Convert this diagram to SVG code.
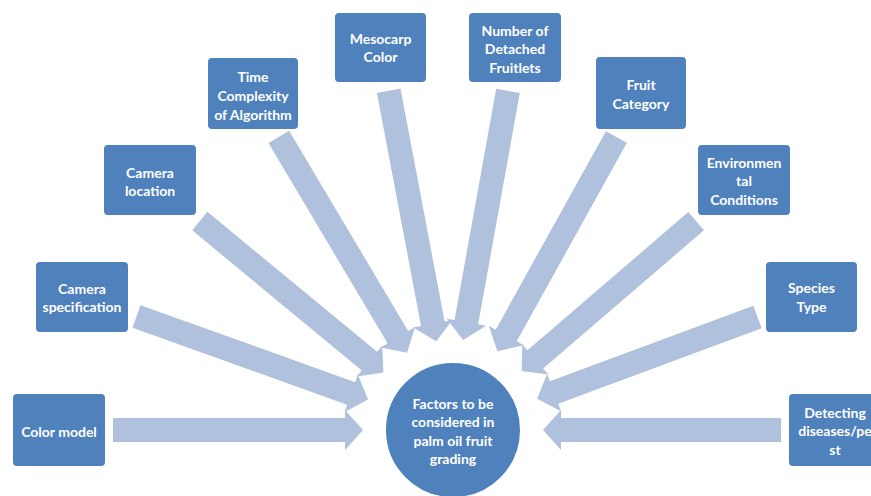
<svg xmlns="http://www.w3.org/2000/svg" width="871" height="496" viewBox="0 0 871 496">
<defs>
<style>
.bg{fill:#ffffff}
.box{fill:#4f81bd;stroke:#ffffff;stroke-width:2}
.arr{fill:#afc1dd}
.t{fill:#ffffff;font-family:Lato,"Open Sans","Liberation Sans",sans-serif;font-weight:bold;font-size:14px;text-anchor:middle;dominant-baseline:central}
</style>
</defs>
<rect class="bg" x="0" y="0" width="871" height="496"/>
<g id="connectors">
<polygon class="arr" points="0,-12 232,-12 232,-20 250,0 232,20 232,12 0,12" transform="translate(113,430) rotate(0)"/>
<polygon class="arr" points="0,-12 228,-12 228,-20 246,0 228,20 228,12 0,12" transform="translate(136.5,316.5) rotate(19.72)"/>
<polygon class="arr" points="0,-12 220,-12 220,-20 238,0 220,20 220,12 0,12" transform="translate(199.8,221.1) rotate(39.53)"/>
<polygon class="arr" points="0,-12 233,-12 233,-20 251,0 233,20 233,12 0,12" transform="translate(278.8,136.9) rotate(59.27)"/>
<polygon class="arr" points="0,-12 237,-12 237,-20 255,0 237,20 237,12 0,12" transform="translate(388.7,90.8) rotate(79.27)"/>
<polygon class="arr" points="0,-12 235,-12 235,-20 253,0 235,20 235,12 0,12" transform="translate(508,90.9) rotate(100.21)"/>
<polygon class="arr" points="0,-12 227,-12 227,-20 245,0 227,20 227,12 0,12" transform="translate(616.4,137) rotate(119.04)"/>
<polygon class="arr" points="0,-12 212,-12 212,-20 230,0 212,20 212,12 0,12" transform="translate(696.1,221.2) rotate(139.33)"/>
<polygon class="arr" points="0,-12 217,-12 217,-20 235,0 217,20 217,12 0,12" transform="translate(757.5,317) rotate(159.64)"/>
<polygon class="arr" points="0,-12 220,-12 220,-20 238,0 220,20 220,12 0,12" transform="translate(781,430) rotate(180)"/>
</g>
<g id="center">
<circle cx="453" cy="430" r="68" fill="#4f81bd" stroke="#ffffff" stroke-width="2"/>
<text class="t" x="453" y="403">Factors to be</text>
<text class="t" x="453" y="421">considered  in</text>
<text class="t" x="453" y="440">palm oil  fruit</text>
<text class="t" x="453" y="458">grading</text>
</g>
<g id="color-model">
<rect class="box" x="12" y="393" width="94" height="74" rx="5"/>
<text class="t" x="59" y="431">Color model</text>
</g>
<g id="camera-specification">
<rect class="box" x="35" y="261" width="94" height="72" rx="5"/>
<text class="t" x="82" y="288">Camera</text>
<text class="t" x="82" y="306">specification</text>
</g>
<g id="camera-location">
<rect class="box" x="103" y="144" width="94" height="72" rx="5"/>
<text class="t" x="150" y="172">Camera</text>
<text class="t" x="150" y="190">location</text>
</g>
<g id="time-complexity">
<rect class="box" x="207" y="57" width="92" height="73" rx="5"/>
<text class="t" x="253" y="76">Time</text>
<text class="t" x="253" y="95">Complexity</text>
<text class="t" x="253" y="114">of Algorithm</text>
</g>
<g id="mesocarp-color">
<rect class="box" x="334" y="12" width="93" height="71" rx="5"/>
<text class="t" x="380.5" y="38">Mesocarp</text>
<text class="t" x="380.5" y="56">Color</text>
</g>
<g id="detached-fruitlets">
<rect class="box" x="468" y="12" width="94" height="71" rx="5"/>
<text class="t" x="515" y="30">Number of</text>
<text class="t" x="515" y="48.5">Detached</text>
<text class="t" x="515" y="67">Fruitlets</text>
</g>
<g id="fruit-category">
<rect class="box" x="595" y="56" width="92" height="74" rx="5"/>
<text class="t" x="641" y="84">Fruit</text>
<text class="t" x="641" y="103">Category</text>
</g>
<g id="environmental-conditions">
<rect class="box" x="697" y="144" width="94" height="72" rx="5"/>
<text class="t" x="744" y="162">Environmen</text>
<text class="t" x="744" y="180">tal</text>
<text class="t" x="744" y="199">Conditions</text>
</g>
<g id="species-type">
<rect class="box" x="765" y="261" width="93" height="72" rx="5"/>
<text class="t" x="811.5" y="287">Species</text>
<text class="t" x="811.5" y="306">Type</text>
</g>
<g id="detecting-diseases">
<rect class="box" x="788" y="393" width="94" height="74" rx="5"/>
<text class="t" x="835" y="412">Detecting</text>
<text class="t" x="835" y="430">diseases/pe</text>
<text class="t" x="835" y="449">st</text>
</g>
</svg>
